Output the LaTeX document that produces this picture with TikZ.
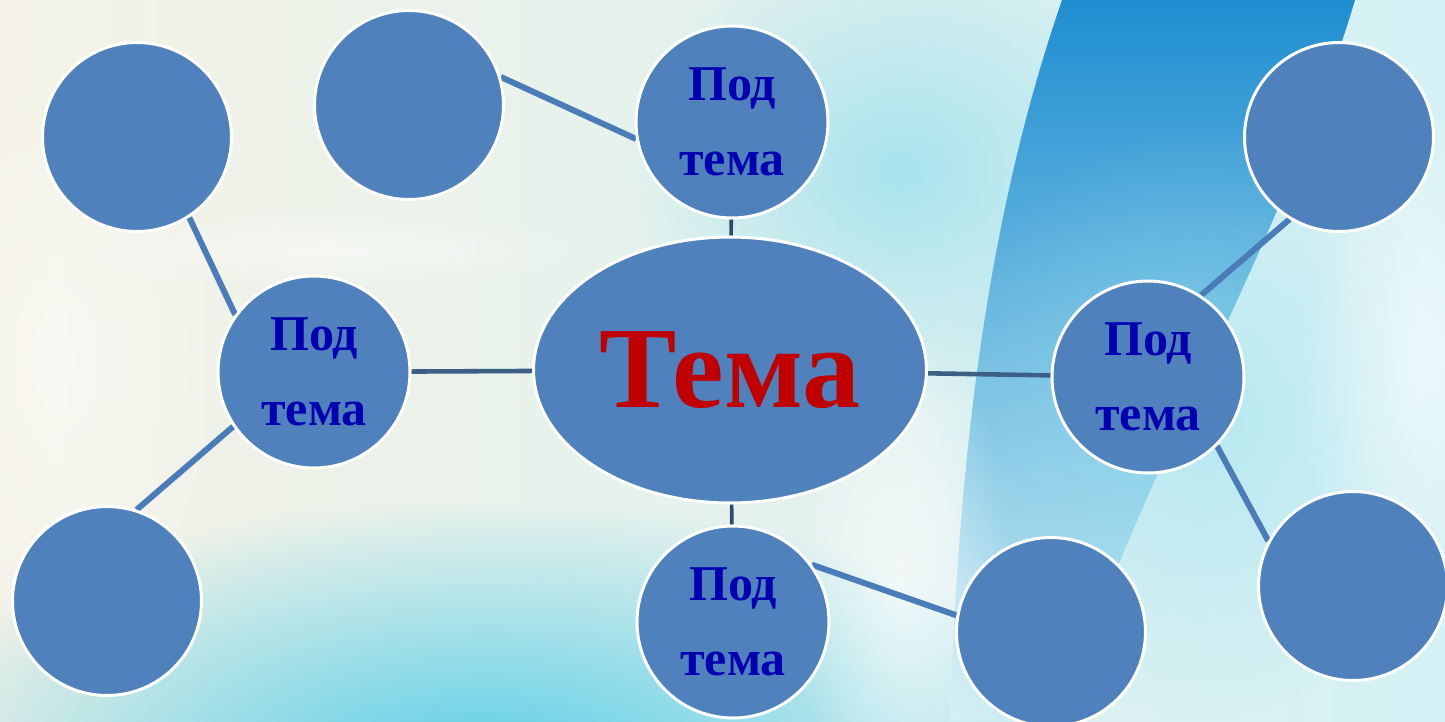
\documentclass[tikz,border=0pt]{standalone}
\usepackage{fontspec}
\setmainfont{Liberation Serif}
\usetikzlibrary{shapes.geometric, fadings, positioning}
\definecolor{nodeblue}{HTML}{4F81BD}
\definecolor{linkblue}{HTML}{4A7CB9}
\definecolor{hubline}{HTML}{3D5F86}
\definecolor{stemline}{HTML}{2E4A6A}
\definecolor{subtext}{HTML}{0000B0}
\definecolor{temared}{HTML}{C00000}
\definecolor{bgleft}{HTML}{F4F2E6}
\definecolor{bgright}{HTML}{D4F1F5}
\definecolor{glowcyan}{HTML}{4FCBE6}
\definecolor{swooshtop}{HTML}{1F8ED1}
\definecolor{swooshmid}{HTML}{4CC8E5}
\definecolor{swooshbot}{HTML}{CDEEF3}
\tikzfading[name=softglow, inner color=transparent!0, outer color=transparent!100]
\pgfdeclarelayer{bg}
\pgfdeclarelayer{links}
\pgfsetlayers{bg,links,main}

\begin{document}
\begin{tikzpicture}[x=0.02cm, y=-0.02cm,
  hub/.style={ellipse, draw=white, line width=1.7pt, fill=nodeblue, minimum width=7.86cm, minimum height=5.32cm, inner sep=0pt, text=temared, font=\fontsize{66}{70}\selectfont\bfseries},
  sub/.style={circle, draw=white, line width=1.7pt, fill=nodeblue, minimum size=3.84cm, inner sep=0pt, align=center, text=subtext, font=\fontsize{28.5}{43}\selectfont\bfseries},
  leaf/.style={circle, draw=white, line width=1.7pt, fill=nodeblue, minimum size=3.78cm, inner sep=0pt},
  link/.style={line width=3.4pt, draw=linkblue},
  side/.style={line width=2.6pt, draw=hubline},
  stem/.style={line width=2.1pt, draw=stemline}]
  \useasboundingbox (0,0) rectangle (1445,721);
  % centre and sub topics
  \node[hub] (tema) at (730,370) {Тема};
  \node[sub] (up) at (732,122) {Под\\тема};
  \node[sub] (lf) at (314,372) {Под\\тема};
  \node[sub] (rt) at (1148,377) {Под\\тема};
  \node[sub] (dn) at (733,622) {Под\\тема};
  % empty outer circles
  \node[leaf] (lf1) at (137,137) {};
  \node[leaf] (lf2) at (107,601) {};
  \node[leaf] (up1) at (409,105) {};
  \node[leaf] (rt1) at (1339,137) {};
  \node[leaf] (rt2) at (1353,586) {};
  \node[leaf] (dn1) at (1051,632) {};
  \begin{pgfonlayer}{links}
    \draw[side] (tema) -- (lf);
    \draw[side] (tema) -- (rt);
    \draw[stem] (tema) -- (up);
    \draw[stem] (tema) -- (dn);
    \draw[link] (lf1.-57) -- (lf.144);
    \draw[link] (lf2.72) -- (lf.214);
    \draw[link] (up1.17) -- (up.190);
    \draw[link] (rt1.239) -- (rt.57);
    \draw[link] (rt.-45) -- (rt2.152);
    \draw[link] (dn.36) -- (dn1.170);
  \end{pgfonlayer}
  \begin{pgfonlayer}{bg}
    \fill[left color=bgleft, right color=bgright] (0,0) rectangle (1445,721);
    \fill[glowcyan, path fading=softglow, opacity=0.9] (480,760) ellipse (620 and 260);
    \fill[glowcyan!70, path fading=softglow, opacity=0.6] (900,170) ellipse (280 and 240);
    \shade[top color=swooshtop, middle color=swooshmid, bottom color=swooshbot]
      (1062,0) .. controls (1000,180) and (960,400) .. (950,721)
      -- (1060,721) .. controls (1150,450) and (1280,250) .. (1355,0) -- cycle;
    \fill[glowcyan!60, path fading=softglow, opacity=0.5] (1200,420) ellipse (260 and 300);
    \fill[white, path fading=softglow, opacity=0.6] (900,580) ellipse (110 and 260);
    \fill[white, path fading=softglow, opacity=0.6] (1420,360) ellipse (120 and 280);
    \fill[white, path fading=softglow, opacity=0.5] (60,360) ellipse (170 and 320);
    \fill[white, path fading=softglow, opacity=0.5] (330,250) ellipse (260 and 40);
  \end{pgfonlayer}
\end{tikzpicture}
\end{document}
